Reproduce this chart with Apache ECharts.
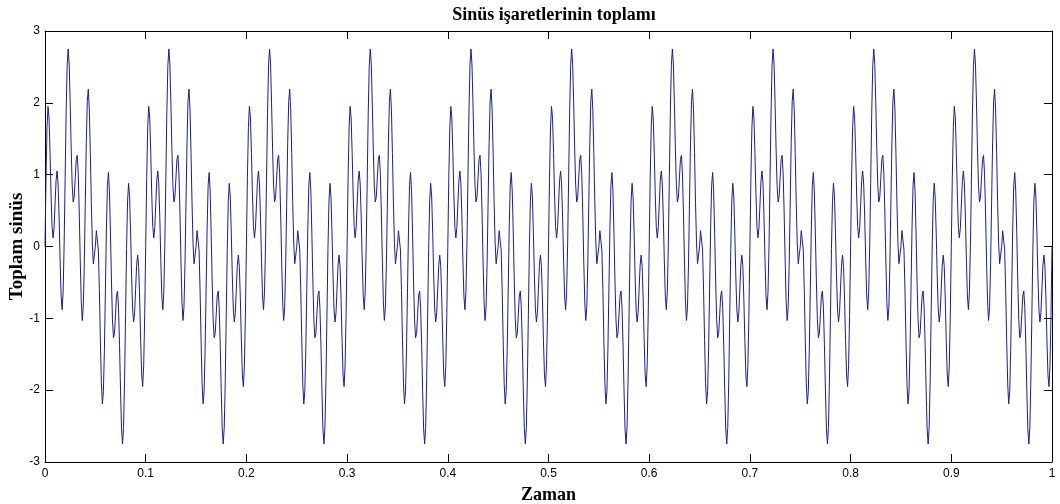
<!DOCTYPE html>
<html>
<head>
<meta charset="utf-8">
<script src="https://cdn.jsdelivr.net/npm/echarts@6/dist/echarts.min.js"></script>
<style>html,body{margin:0;padding:0;background:#fff;}#c{width:1060px;height:504px;}</style>
</head>
<body>
<div id="c"></div>
<script>
// Text
const titleText = 'Sinüs işaretlerinin toplamı';
const xName = 'Zaman';
const yName = 'Toplam sinüs';

// Axis ticks
const xTicks = [0, 0.1, 0.2, 0.3, 0.4, 0.5, 0.6, 0.7, 0.8, 0.9, 1];
const yTicks = [-3, -2, -1, 0, 1, 2, 3];

// Sample grid (1 ms steps from 0 to 1 s)
const sampleStart = 0;
const sampleStep = 0.001;

// Signal values, one array per 0.1 s span
const span1 = [0,0.96,1.66,1.95,1.79,1.31,0.73,0.28,0.12,0.26,0.59,0.92,1.05,0.87,0.41,-0.19,-0.69,-0.88,-0.63,0.03,0.95,1.87,2.52,2.75,2.54,2.00,1.36,0.85,0.62,0.69,0.95,1.21,1.27,1.02,0.48,-0.19,-0.77,-1.03,-0.85,-0.26,0.59,1.43,2.02,2.19,1.91,1.31,0.61,0.05,-0.24,-0.22,0,0.22,0.24,-0.05,-0.61,-1.31,-1.91,-2.19,-2.02,-1.43,-0.59,0.26,0.85,1.03,0.77,0.19,-0.48,-1.02,-1.27,-1.21,-0.95,-0.69,-0.62,-0.85,-1.36,-2.00,-2.54,-2.75,-2.52,-1.87,-0.95,-0.03,0.63,0.88,0.69,0.19,-0.41,-0.87,-1.05,-0.92,-0.59,-0.26,-0.12,-0.28,-0.73,-1.31,-1.79,-1.95,-1.66,-0.96];
const span2 = [0,0.96,1.66,1.95,1.79,1.31,0.73,0.28,0.12,0.26,0.59,0.92,1.05,0.87,0.41,-0.19,-0.69,-0.88,-0.63,0.03,0.95,1.87,2.52,2.75,2.54,2.00,1.36,0.85,0.62,0.69,0.95,1.21,1.27,1.02,0.48,-0.19,-0.77,-1.03,-0.85,-0.26,0.59,1.43,2.02,2.19,1.91,1.31,0.61,0.05,-0.24,-0.22,0,0.22,0.24,-0.05,-0.61,-1.31,-1.91,-2.19,-2.02,-1.43,-0.59,0.26,0.85,1.03,0.77,0.19,-0.48,-1.02,-1.27,-1.21,-0.95,-0.69,-0.62,-0.85,-1.36,-2.00,-2.54,-2.75,-2.52,-1.87,-0.95,-0.03,0.63,0.88,0.69,0.19,-0.41,-0.87,-1.05,-0.92,-0.59,-0.26,-0.12,-0.28,-0.73,-1.31,-1.79,-1.95,-1.66,-0.96];
const span3 = [0,0.96,1.66,1.95,1.79,1.31,0.73,0.28,0.12,0.26,0.59,0.92,1.05,0.87,0.41,-0.19,-0.69,-0.88,-0.63,0.03,0.95,1.87,2.52,2.75,2.54,2.00,1.36,0.85,0.62,0.69,0.95,1.21,1.27,1.02,0.48,-0.19,-0.77,-1.03,-0.85,-0.26,0.59,1.43,2.02,2.19,1.91,1.31,0.61,0.05,-0.24,-0.22,0,0.22,0.24,-0.05,-0.61,-1.31,-1.91,-2.19,-2.02,-1.43,-0.59,0.26,0.85,1.03,0.77,0.19,-0.48,-1.02,-1.27,-1.21,-0.95,-0.69,-0.62,-0.85,-1.36,-2.00,-2.54,-2.75,-2.52,-1.87,-0.95,-0.03,0.63,0.88,0.69,0.19,-0.41,-0.87,-1.05,-0.92,-0.59,-0.26,-0.12,-0.28,-0.73,-1.31,-1.79,-1.95,-1.66,-0.96];
const span4 = [0,0.96,1.66,1.95,1.79,1.31,0.73,0.28,0.12,0.26,0.59,0.92,1.05,0.87,0.41,-0.19,-0.69,-0.88,-0.63,0.03,0.95,1.87,2.52,2.75,2.54,2.00,1.36,0.85,0.62,0.69,0.95,1.21,1.27,1.02,0.48,-0.19,-0.77,-1.03,-0.85,-0.26,0.59,1.43,2.02,2.19,1.91,1.31,0.61,0.05,-0.24,-0.22,0,0.22,0.24,-0.05,-0.61,-1.31,-1.91,-2.19,-2.02,-1.43,-0.59,0.26,0.85,1.03,0.77,0.19,-0.48,-1.02,-1.27,-1.21,-0.95,-0.69,-0.62,-0.85,-1.36,-2.00,-2.54,-2.75,-2.52,-1.87,-0.95,-0.03,0.63,0.88,0.69,0.19,-0.41,-0.87,-1.05,-0.92,-0.59,-0.26,-0.12,-0.28,-0.73,-1.31,-1.79,-1.95,-1.66,-0.96];
const span5 = [0,0.96,1.66,1.95,1.79,1.31,0.73,0.28,0.12,0.26,0.59,0.92,1.05,0.87,0.41,-0.19,-0.69,-0.88,-0.63,0.03,0.95,1.87,2.52,2.75,2.54,2.00,1.36,0.85,0.62,0.69,0.95,1.21,1.27,1.02,0.48,-0.19,-0.77,-1.03,-0.85,-0.26,0.59,1.43,2.02,2.19,1.91,1.31,0.61,0.05,-0.24,-0.22,0,0.22,0.24,-0.05,-0.61,-1.31,-1.91,-2.19,-2.02,-1.43,-0.59,0.26,0.85,1.03,0.77,0.19,-0.48,-1.02,-1.27,-1.21,-0.95,-0.69,-0.62,-0.85,-1.36,-2.00,-2.54,-2.75,-2.52,-1.87,-0.95,-0.03,0.63,0.88,0.69,0.19,-0.41,-0.87,-1.05,-0.92,-0.59,-0.26,-0.12,-0.28,-0.73,-1.31,-1.79,-1.95,-1.66,-0.96];
const span6 = [0,0.96,1.66,1.95,1.79,1.31,0.73,0.28,0.12,0.26,0.59,0.92,1.05,0.87,0.41,-0.19,-0.69,-0.88,-0.63,0.03,0.95,1.87,2.52,2.75,2.54,2.00,1.36,0.85,0.62,0.69,0.95,1.21,1.27,1.02,0.48,-0.19,-0.77,-1.03,-0.85,-0.26,0.59,1.43,2.02,2.19,1.91,1.31,0.61,0.05,-0.24,-0.22,0,0.22,0.24,-0.05,-0.61,-1.31,-1.91,-2.19,-2.02,-1.43,-0.59,0.26,0.85,1.03,0.77,0.19,-0.48,-1.02,-1.27,-1.21,-0.95,-0.69,-0.62,-0.85,-1.36,-2.00,-2.54,-2.75,-2.52,-1.87,-0.95,-0.03,0.63,0.88,0.69,0.19,-0.41,-0.87,-1.05,-0.92,-0.59,-0.26,-0.12,-0.28,-0.73,-1.31,-1.79,-1.95,-1.66,-0.96];
const span7 = [0,0.96,1.66,1.95,1.79,1.31,0.73,0.28,0.12,0.26,0.59,0.92,1.05,0.87,0.41,-0.19,-0.69,-0.88,-0.63,0.03,0.95,1.87,2.52,2.75,2.54,2.00,1.36,0.85,0.62,0.69,0.95,1.21,1.27,1.02,0.48,-0.19,-0.77,-1.03,-0.85,-0.26,0.59,1.43,2.02,2.19,1.91,1.31,0.61,0.05,-0.24,-0.22,0,0.22,0.24,-0.05,-0.61,-1.31,-1.91,-2.19,-2.02,-1.43,-0.59,0.26,0.85,1.03,0.77,0.19,-0.48,-1.02,-1.27,-1.21,-0.95,-0.69,-0.62,-0.85,-1.36,-2.00,-2.54,-2.75,-2.52,-1.87,-0.95,-0.03,0.63,0.88,0.69,0.19,-0.41,-0.87,-1.05,-0.92,-0.59,-0.26,-0.12,-0.28,-0.73,-1.31,-1.79,-1.95,-1.66,-0.96];
const span8 = [0,0.96,1.66,1.95,1.79,1.31,0.73,0.28,0.12,0.26,0.59,0.92,1.05,0.87,0.41,-0.19,-0.69,-0.88,-0.63,0.03,0.95,1.87,2.52,2.75,2.54,2.00,1.36,0.85,0.62,0.69,0.95,1.21,1.27,1.02,0.48,-0.19,-0.77,-1.03,-0.85,-0.26,0.59,1.43,2.02,2.19,1.91,1.31,0.61,0.05,-0.24,-0.22,0,0.22,0.24,-0.05,-0.61,-1.31,-1.91,-2.19,-2.02,-1.43,-0.59,0.26,0.85,1.03,0.77,0.19,-0.48,-1.02,-1.27,-1.21,-0.95,-0.69,-0.62,-0.85,-1.36,-2.00,-2.54,-2.75,-2.52,-1.87,-0.95,-0.03,0.63,0.88,0.69,0.19,-0.41,-0.87,-1.05,-0.92,-0.59,-0.26,-0.12,-0.28,-0.73,-1.31,-1.79,-1.95,-1.66,-0.96];
const span9 = [0,0.96,1.66,1.95,1.79,1.31,0.73,0.28,0.12,0.26,0.59,0.92,1.05,0.87,0.41,-0.19,-0.69,-0.88,-0.63,0.03,0.95,1.87,2.52,2.75,2.54,2.00,1.36,0.85,0.62,0.69,0.95,1.21,1.27,1.02,0.48,-0.19,-0.77,-1.03,-0.85,-0.26,0.59,1.43,2.02,2.19,1.91,1.31,0.61,0.05,-0.24,-0.22,0,0.22,0.24,-0.05,-0.61,-1.31,-1.91,-2.19,-2.02,-1.43,-0.59,0.26,0.85,1.03,0.77,0.19,-0.48,-1.02,-1.27,-1.21,-0.95,-0.69,-0.62,-0.85,-1.36,-2.00,-2.54,-2.75,-2.52,-1.87,-0.95,-0.03,0.63,0.88,0.69,0.19,-0.41,-0.87,-1.05,-0.92,-0.59,-0.26,-0.12,-0.28,-0.73,-1.31,-1.79,-1.95,-1.66,-0.96];
const span10 = [0,0.96,1.66,1.95,1.79,1.31,0.73,0.28,0.12,0.26,0.59,0.92,1.05,0.87,0.41,-0.19,-0.69,-0.88,-0.63,0.03,0.95,1.87,2.52,2.75,2.54,2.00,1.36,0.85,0.62,0.69,0.95,1.21,1.27,1.02,0.48,-0.19,-0.77,-1.03,-0.85,-0.26,0.59,1.43,2.02,2.19,1.91,1.31,0.61,0.05,-0.24,-0.22,0,0.22,0.24,-0.05,-0.61,-1.31,-1.91,-2.19,-2.02,-1.43,-0.59,0.26,0.85,1.03,0.77,0.19,-0.48,-1.02,-1.27,-1.21,-0.95,-0.69,-0.62,-0.85,-1.36,-2.00,-2.54,-2.75,-2.52,-1.87,-0.95,-0.03,0.63,0.88,0.69,0.19,-0.41,-0.87,-1.05,-0.92,-0.59,-0.26,-0.12,-0.28,-0.73,-1.31,-1.79,-1.95,-1.66,-0.96];
const lastValue = [0];

const values = [].concat(span1, span2, span3, span4, span5, span6, span7, span8, span9, span10, lastValue);
const seriesData = values.map((v, i) => [+(sampleStart + i * sampleStep).toFixed(3), v]);

const tickFont = { fontFamily: 'Liberation Sans Narrow, Liberation Sans, Arial', fontSize: 12, color: '#000' };
const serif = 'Liberation Serif, Times New Roman, serif';
const lineStyle = { color: '#000', width: 1 };

const chart = echarts.init(document.getElementById('c'), null, { renderer: 'canvas' });
chart.setOption({
  animation: false,
  backgroundColor: '#fff',
  title: {
    text: titleText,
    left: 549, top: 1, textAlign: 'center',
    textStyle: { fontFamily: serif, fontWeight: 'bold', fontSize: 18, color: '#000' }
  },
  grid: { left: 45, right: 8, top: 31, bottom: 42, containLabel: false, outerBoundsMode: 'none' },
  xAxis: [{
    type: 'value', min: xTicks[0], max: xTicks[xTicks.length - 1], interval: 0.1,
    position: 'bottom',
    name: xName, nameLocation: 'middle', nameGap: 24, nameMoveOverlap: false,
    nameTextStyle: { fontFamily: serif, fontWeight: 'bold', fontSize: 18, color: '#000' },
    axisLine: { onZero: false, lineStyle },
    axisTick: { inside: true, length: 8, lineStyle },
    axisLabel: Object.assign({ margin: 6 }, tickFont),
    splitLine: { show: false }
  }, {
    type: 'value', min: xTicks[0], max: xTicks[xTicks.length - 1], interval: 0.1,
    position: 'top',
    axisLine: { onZero: false, lineStyle },
    axisTick: { inside: true, length: 8, lineStyle },
    axisLabel: { show: false },
    splitLine: { show: false }
  }],
  yAxis: [{
    type: 'value', min: yTicks[0], max: yTicks[yTicks.length - 1], interval: 1,
    position: 'left',
    name: yName, nameLocation: 'middle', nameGap: 18, nameMoveOverlap: false,
    nameTextStyle: { fontFamily: serif, fontWeight: 'bold', fontSize: 19, color: '#000' },
    axisLine: { show: true, onZero: false, lineStyle },
    axisTick: { show: true, inside: true, length: 8, lineStyle },
    axisLabel: Object.assign({ margin: 5 }, tickFont),
    splitLine: { show: false }
  }, {
    type: 'value', min: yTicks[0], max: yTicks[yTicks.length - 1], interval: 1,
    position: 'right',
    axisLine: { show: true, onZero: false, lineStyle },
    axisTick: { show: true, inside: true, length: 8, lineStyle },
    axisLabel: { show: false },
    splitLine: { show: false }
  }],
  series: [{
    type: 'line',
    xAxisIndex: 0, yAxisIndex: 0,
    data: seriesData,
    showSymbol: false,
    symbol: 'none',
    sampling: null,
    lineStyle: { color: '#1c1c9a', width: 1 },
    z: 1
  }]
});
</script>
</body>
</html>
